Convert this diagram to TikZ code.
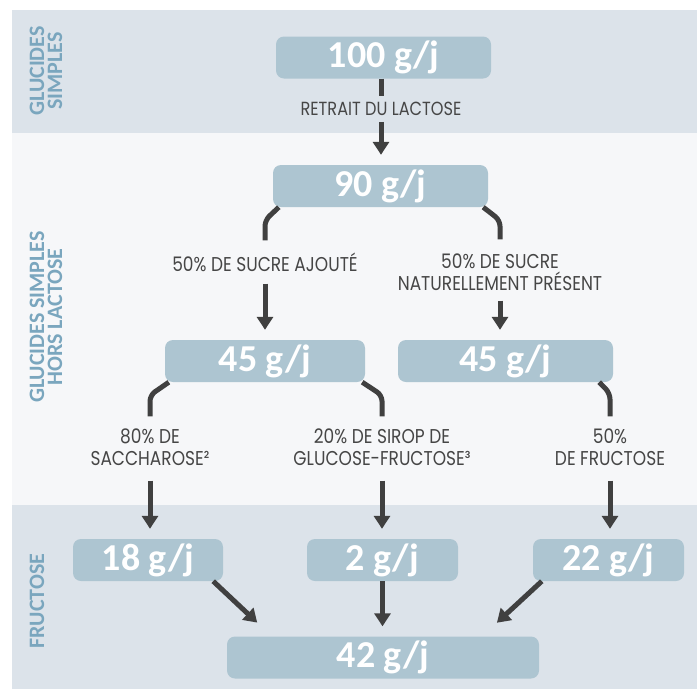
\documentclass[tikz,border=0pt]{standalone}
\usepackage{fontspec}
\usepackage{tikz}
\usetikzlibrary{shapes,arrows,arrows.meta}

\setmainfont{Carlito}
\newfontfamily\cutfont[FakeStretch=0.85]{Poppins}

\definecolor{bandblue}{RGB}{220,227,234}
\definecolor{bandlight}{RGB}{246,247,249}
\definecolor{boxblue}{RGB}{173,197,209}
\definecolor{sideblue}{RGB}{122,166,190}
\definecolor{linkgray}{RGB}{64,64,64}
\definecolor{textgray}{RGB}{70,70,70}

\begin{document}
\begin{tikzpicture}[x=1pt, y=-1pt, >={Triangle[width=16pt,length=13pt]}]
    \tikzstyle{block} = [fill=boxblue, rounded corners=8pt, text=white,
    font=\fontsize{38}{38}\selectfont\bfseries, inner sep=0pt, minimum height=42pt]
    \tikzstyle{cut} = [font=\cutfont\fontsize{20}{22}\selectfont, text=textgray,
    align=center, inner sep=0pt]
    \tikzstyle{side} = [font=\fontsize{22}{18}\selectfont\bfseries, text=sideblue,
    rotate=90, align=center]
    \tikzstyle{link} = [draw=linkgray, line width=5pt, rounded corners=6pt]
    \tikzstyle{flow} = [link, ->, shorten >=10pt]

    % bands
    \useasboundingbox (0,0) rectangle (697,689);
    \fill [white] (0,0) rectangle (697,689);
    \fill [bandblue] (12,10) rectangle (697,133);
    \fill [bandlight] (12,133) rectangle (697,505);
    \fill [bandblue] (12,505) rectangle (697,689);

    \node [side] (sglu) at (46,71) {GLUCIDES\\SIMPLES};
    \node [side] (shors) at (46,317) {GLUCIDES SIMPLES\\HORS LACTOSE};
    \node [side] (sfru) at (37,601) {FRUCTOSE};

    \node [block, minimum width=215pt] (b100) at (383.5,57.5) {100 g/j};
    \node [block, minimum width=215pt] (b90) at (380.5,186) {90 g/j};
    \node [block, minimum width=200pt] (b45a) at (265,361) {45 g/j};
    \node [block, minimum width=215pt] (b45b) at (505.5,361) {45 g/j};
    \node [block, minimum width=150pt] (b18) at (148,560) {18 g/j};
    \node [block, minimum width=151pt] (b2) at (382.5,560) {2 g/j};
    \node [block, minimum width=151pt] (b22) at (608.5,560) {22 g/j};
    \node [block, minimum width=312pt] (b42) at (383,657.5) {42 g/j};

    \node [cut, font=\cutfont\fontsize{19}{20}\selectfont] (lretrait) at (381,109) {RETRAIT DU LACTOSE};
    \node [cut] (lajout) at (265,262) {50\% DE SUCRE AJOUTÉ};
    \node [cut] (lnat) at (500,272) {50\% DE SUCRE\\NATURELLEMENT PRÉSENT};
    \node [cut] (lsac) at (150,447) {80\% DE\\SACCHAROSE²};
    \node [cut] (lsirop) at (382,447) {20\% DE SIROP DE\\GLUCOSE-FRUCTOSE³};
    \node [cut] (lfru) at (610,447) {50\%\\DE FRUCTOSE};

    \draw [link] (lretrait |- b100.south) -- ([yshift=6pt]lretrait.north);
    \draw [flow] ([yshift=-6pt]lretrait.south) -- (lretrait |- b90.north);

    \draw [link] ([xshift=6pt]b90.south west) -- ([yshift=-13pt]b90.south west -| lajout.north)
        -- ([yshift=12pt]lajout.north);
    \draw [flow] ([yshift=-12pt]lajout.south) -- (lajout |- b45a.north);
    \draw [link] ([xshift=-5pt]b90.south east) -- ([yshift=-13pt]b90.south east -| lnat.north)
        -- ([yshift=14pt]lnat.north);
    \draw [flow] ([yshift=-10pt]lnat.south) -- (lnat |- b45b.north);

    \draw [link] ([xshift=4pt]b45a.south west) -- ([yshift=-13pt]b45a.south west -| lsac.north)
        -- ([yshift=12pt]lsac.north);
    \draw [flow] ([yshift=-15pt]lsac.south) -- (lsac |- b18.north);
    \draw [link] ([xshift=-3pt]b45a.south east) -- ([yshift=-13pt]b45a.south east -| lsirop.north)
        -- ([yshift=12pt]lsirop.north);
    \draw [flow] ([yshift=-15pt]lsirop.south) -- (lsirop |- b2.north);
    \draw [link] ([xshift=-14pt]b45b.south east) -- ([yshift=-11pt]b45b.south east -| lfru.north)
        -- ([yshift=12pt]lfru.north);
    \draw [flow] ([yshift=-15pt]lfru.south) -- (lfru |- b22.north);

    \draw [flow, shorten >=20pt] ([xshift=-10pt]b18.south east) -- ([xshift=45pt]b42.north west);
    \draw [flow] (b2.south) -- (b2 |- b42.north);
    \draw [flow, shorten >=20pt] ([xshift=9pt]b22.south west) -- ([xshift=-57pt]b42.north east);
\end{tikzpicture}
\end{document}
